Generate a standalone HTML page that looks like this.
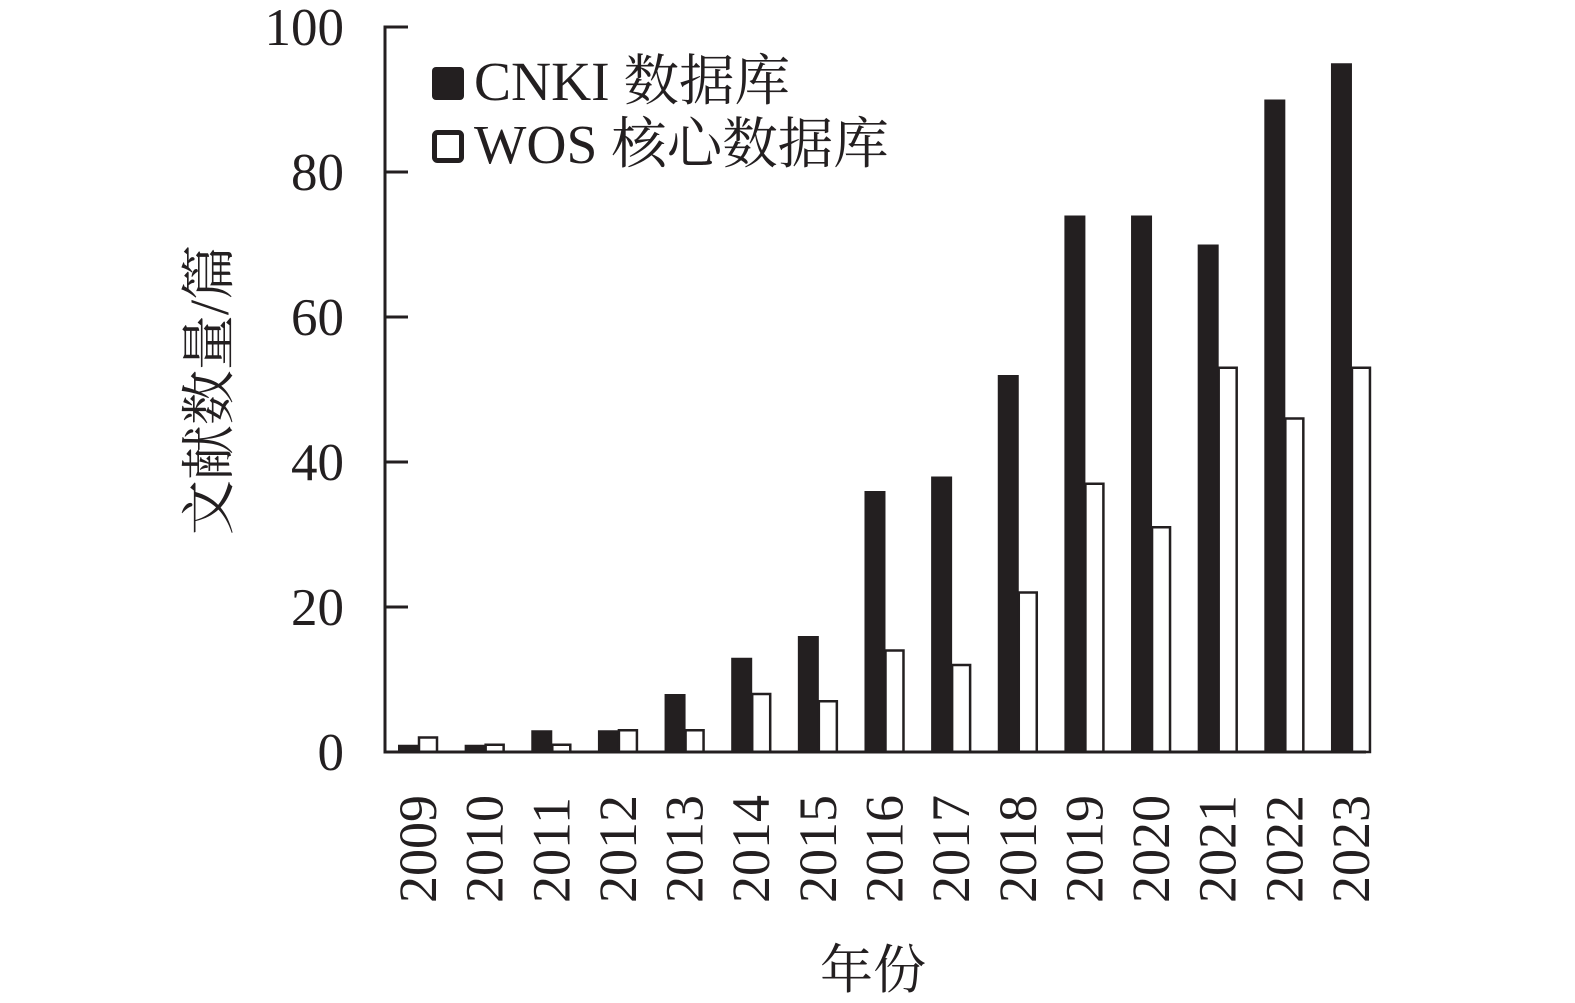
<!DOCTYPE html>
<html><head><meta charset="utf-8"><style>
body{margin:0;background:#fff;}
svg text{font-family:"Liberation Serif","Noto Serif CJK SC",serif;fill:#231f20;}
</style></head><body>
<svg width="1575" height="998" viewBox="0 0 1575 998" xmlns="http://www.w3.org/2000/svg">
<g id="bars"></g>
<line x1="385" y1="25.5" x2="385" y2="753.5" stroke="#231f20" stroke-width="3"/>
<line x1="383.5" y1="752" x2="1366" y2="752" stroke="#231f20" stroke-width="3"/>
<g stroke="#231f20" stroke-width="3">
<line x1="385" y1="27" x2="408" y2="27"/>
<line x1="385" y1="172" x2="408" y2="172"/>
<line x1="385" y1="317" x2="408" y2="317"/>
<line x1="385" y1="462" x2="408" y2="462"/>
<line x1="385" y1="607" x2="408" y2="607"/>
</g>
<g font-size="53" text-anchor="end">
<text x="344" y="45">100</text>
<text x="344" y="190">80</text>
<text x="344" y="335">60</text>
<text x="344" y="480">40</text>
<text x="344" y="625">20</text>
<text x="344" y="770">0</text>
</g>
<rect x="432" y="67" width="32" height="33" rx="4" fill="#231f20"/>
<rect x="434.5" y="132.5" width="27" height="28" rx="3" fill="#fff" stroke="#231f20" stroke-width="5"/>
<text x="474" y="100" font-size="55.5">CNKI 数据库</text>
<text x="474" y="163" font-size="55.5">WOS 核心数据库</text>
<text transform="translate(228,390) rotate(-90)" font-size="55" text-anchor="middle">文献数量/篇</text>
<text x="873" y="988" font-size="53" text-anchor="middle">年份</text>
<g id="xl" font-size="54"></g>
</svg>
<script>
var c=[1,1,3,3,8,13,16,36,38,52,74,74,70,90,95],w=[2,1,1,3,3,8,7,14,12,22,37,31,53,46,53];
var b=document.getElementById('bars'),xl=document.getElementById('xl'),ns='http://www.w3.org/2000/svg';
for(var i=0;i<15;i++){var x=398+i*66.64;
var r=document.createElementNS(ns,'rect');r.setAttribute('x',x);r.setAttribute('y',752-c[i]*7.25);r.setAttribute('width',21);r.setAttribute('height',c[i]*7.25);r.setAttribute('fill','#231f20');b.appendChild(r);
r=document.createElementNS(ns,'rect');r.setAttribute('x',x+21);r.setAttribute('y',752-w[i]*7.25);r.setAttribute('width',18);r.setAttribute('height',w[i]*7.25);r.setAttribute('fill','#fff');r.setAttribute('stroke','#231f20');r.setAttribute('stroke-width','2.5');b.appendChild(r);
var t=document.createElementNS(ns,'text');t.setAttribute('transform','translate('+(x+38)+',903) rotate(-90)');t.textContent=2009+i;xl.appendChild(t);}
</script>
</body></html>
